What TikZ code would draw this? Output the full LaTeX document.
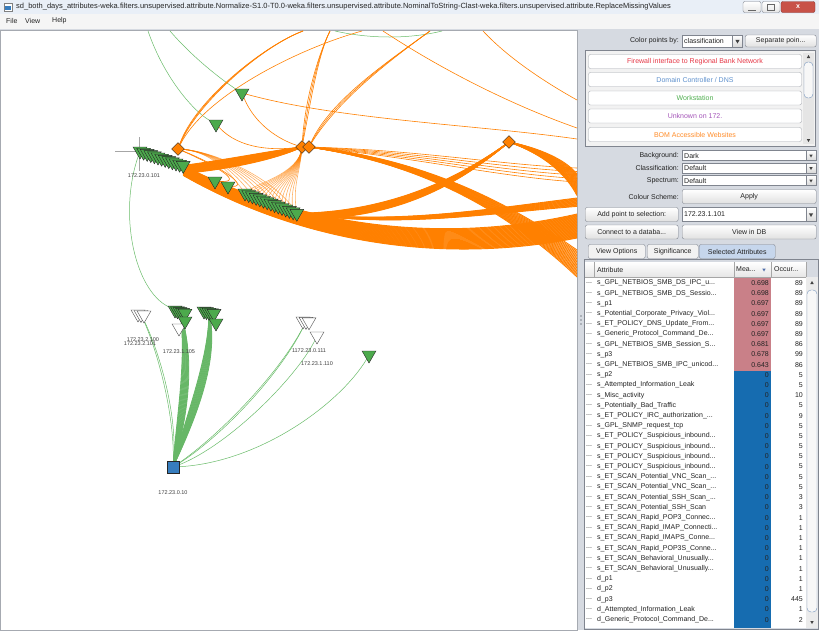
\documentclass[tikz,border=0pt]{standalone}
\usepackage{fontspec}
\setmainfont{Liberation Sans}
\usetikzlibrary{shapes.geometric,positioning}
\pgfdeclarelayer{bg}
\pgfdeclarelayer{edges}
\pgfsetlayers{bg,edges,main}

\definecolor{orng}{RGB}{255,128,0}
\definecolor{grnline}{RGB}{105,188,105}
\definecolor{grnfill}{RGB}{76,170,76}
\definecolor{sqblue}{RGB}{55,125,190}
\definecolor{panel}{RGB}{214,218,225}
\definecolor{frame}{RGB}{128,133,143}
\definecolor{meanred}{RGB}{201,128,136}
\definecolor{meanblue}{RGB}{22,108,176}
\definecolor{tabsel}{RGB}{198,214,236}
\definecolor{titlebg}{RGB}{233,239,247}
\definecolor{closered}{RGB}{200,82,72}
\definecolor{txt}{RGB}{35,35,35}
\definecolor{thumb}{RGB}{120,150,190}
\definecolor{sortblue}{RGB}{80,110,170}
\definecolor{cfire}{RGB}{230,55,70}
\definecolor{cdns}{RGB}{95,145,205}
\definecolor{cwork}{RGB}{80,175,80}
\definecolor{cunk}{RGB}{165,85,185}
\definecolor{cbom}{RGB}{255,140,40}
\newcommand\elp{...}

\tikzset{
  ui/.style={font=\fontsize{7}{8}\selectfont,text=txt},
  btn/.style={ui,draw=frame,rounded corners=2pt,top color=white,bottom color=black!12,inner sep=0pt,anchor=west},
  combo/.style={ui,draw=frame,fill=white,inner xsep=2pt,inner ysep=0pt,text width=#1,anchor=west},
  arrbox/.style={draw=frame,top color=white,bottom color=black!15,minimum width=10pt,inner sep=0pt},
  arrd/.style={regular polygon,regular polygon sides=3,shape border rotate=180,fill=black!75,minimum size=5pt,inner sep=0pt},
  arru/.style={arrd,shape border rotate=0},
  lab/.style={ui,anchor=east,inner sep=0pt},
  item/.style={ui,draw=frame!70,fill=white,rounded corners=2pt,minimum width=213pt,minimum height=14pt,inner sep=0pt},
  tab/.style={ui,draw=frame,fill=black!5,rounded corners=2pt,minimum height=14pt,inner sep=0pt,anchor=west},
  cell/.style={ui,inner sep=0pt},
  tri/.style={regular polygon,regular polygon sides=3,shape border rotate=180,draw=black!85,fill=grnfill,minimum size=16pt,inner sep=0pt},
  htri/.style={tri,fill=white,draw=black!70},
  dia/.style={diamond,draw=black!85,fill=orng,minimum size=13pt,inner sep=0pt},
  ip/.style={font=\fontsize{5.5}{6}\selectfont,text=black!75,inner sep=0pt},
  oe/.style={orng,line width=0.6pt},
  ob/.style={orng,line width=0.9pt},
  ge/.style={grnline,line width=0.5pt},
  gb/.style={grnfill!85,line width=0.8pt},
}

\begin{document}
\begin{tikzpicture}[x=1pt,y=-1pt]
\useasboundingbox (0,0) rectangle (819,630);
\begin{pgfonlayer}{bg}
  \fill[panel] (0,0) rectangle (819,630);
  \fill[titlebg] (0,0) rectangle (819,14);
  \fill[black!4] (0,14) rectangle (819,29);
  \fill[white] (1,31) rectangle (577,630);
  \draw[frame!70] (0.5,30.5) rectangle (577.5,630);
\end{pgfonlayer}

\node[draw=black!50,fill=white,minimum size=8pt,inner sep=0pt] (icon) at (8,7) {};
\fill[sqblue] (5,6) rectangle (11,10);
\node[anchor=west,font=\fontsize{7.5}{8}\selectfont,text=black!85,inner sep=0pt] (title) at (16,7) {sd\_both\_days\_attributes-weka.filters.unsupervised.attribute.Normalize-S1.0-T0.0-weka.filters.unsupervised.attribute.NominalToString-Clast-weka.filters.unsupervised.attribute.ReplaceMissingValues};
\node[draw=frame,rounded corners=2pt,top color=white,bottom color=black!10,minimum width=18pt,minimum height=11pt] (wmin) at (752,7) {};
\node[draw=frame,rounded corners=2pt,top color=white,bottom color=black!10,minimum width=18pt,minimum height=11pt] (wmax) at (771,7) {};
\node[draw=closered!70!black,rounded corners=2pt,fill=closered,minimum width=34pt,minimum height=11pt,text=white,font=\fontsize{7}{7}\bfseries] (wclose) at (798,7) {x};
\draw[black!60,line width=1pt] (748,10) -- (756,10);
\draw[black!60] (767.5,4) rectangle (774.5,10);

\node[ui,anchor=west,inner sep=0pt] (mfile) at (6,21) {File};
\node[ui,anchor=west,inner sep=0pt] (mview) at (25,21) {View};
\node[ui,anchor=west,inner sep=0pt] (mhelp) at (52,21) {Help};

% graph nodes
\node[tri] (t1) at (242,93) {};
\node[tri] (t2) at (216,124) {};
\foreach \i in {0,...,12}
  \node[tri] (c1-\i) at ({140+\i*3.6},{151+\i*1.2}) {};
\node[dia] (d1) at (178,149) {};
\node[dia] (d2) at (302,147) {};
\node[dia] (d2b) at (309,147) {};
\node[dia] (d3) at (509,142) {};
\node[tri] (t3) at (215,181) {};
\node[tri] (t4) at (228,186) {};
\foreach \i in {0,...,14}
  \node[tri] (c2-\i) at ({245+\i*3.7},{193+\i*1.45}) {};
\foreach \i in {0,1,2}
  \node[htri] (h1-\i) at ({138+\i*3},{314+\i*0.5}) {};
\node[htri] (h2) at (179,328) {};
\foreach \i in {0,...,4}
  \node[tri] (g1-\i) at ({175+\i*2.5},{310+\i*0.8}) {};
\node[tri] (g1b) at (185,321) {};
\foreach \i in {0,...,4}
  \node[tri] (g2-\i) at ({204+\i*2.5},{311+\i*0.6}) {};
\node[tri] (g2b) at (216,323) {};
\foreach \i in {0,1,2}
  \node[htri] (h3-\i) at ({303+\i*3},{321+\i*0.4}) {};
\node[htri] (h4) at (317,336) {};
\node[tri] (g3) at (369,355) {};
\node[draw=black!85,fill=sqblue,minimum size=12pt,inner sep=0pt] (sq) at (173,467) {};

\node[ip] (l101) at (144,176) {172.23.0.101};
\node[ip] (l2100) at (143,340) {172.23.2.100};
\node[ip] (l2101) at (140,344) {172.23.2.101};
\node[ip] (l105) at (179,352) {172.23.1.105};
\node[ip] (l111) at (309,351) {1172.23.0.111};
\node[ip] (l110) at (317,364) {172.23.1.110};
\node[ip] (l10) at (173,493) {172.23.0.10};

\coordinate (gtopa) at (148,31);
\coordinate (gtopb) at (170,31);
\coordinate (gtopc) at (335,31);
\coordinate (gtopd) at (442,31);
\coordinate (otopa) at (303,31);
\coordinate (otopb) at (362,31);
\coordinate (otopc) at (330,31);
\coordinate (otopd) at (430,31);
\coordinate (otope) at (383,31);
\coordinate (otopf) at (483,31);
\coordinate (eB) at (577,214);
\coordinate (eC) at (577,198);
\coordinate (eD) at (577,174);
\coordinate (eE) at (577,250);
\coordinate (eF) at (577,168);
\coordinate (eG) at (577,139);
\coordinate (eH) at (577,128);
\coordinate (eI) at (577,100);

\begin{pgfonlayer}{edges}
\draw[black!35] (115,151) -- (151,151) (139,137) -- (139,171);
\draw[ge] (gtopa) .. controls (165,80) and (195,112) .. (t2);
\draw[ge] (gtopb) .. controls (195,60) and (225,82) .. (t1);
\draw[ge] (gtopc) .. controls (370,39) and (410,39) .. (gtopd);
\draw[ge] (c1-0) .. controls (118,215) and (135,290) .. (g1-0);
\foreach \k in {0,1}
  \draw[ge] (sq.center) .. controls ({176+\k*3},420) and ({158+\k*2},350) .. (h1-1.center);
\foreach \k in {0,...,16}
  \draw[gb] (sq.center) .. controls ({176+\k*0.7},420) and ({187+\k*0.6},360) .. (g1-2.center);
\foreach \k in {0,...,16}
  \draw[gb] (sq.center) .. controls ({184+\k*0.7},420) and ({209+\k*0.7},360) .. (g2-2.center);
\foreach \k in {0,1}
  \draw[ge] (sq.center) .. controls (215,{440+\k*3}) and (282,{372+\k*3}) .. (h3-1.center);
\draw[ge] (sq.center) .. controls (225,450) and (300,375) .. (h4.center);
\draw[ge] (sq.center) .. controls (260,465) and (345,400) .. (g3.center);

% orange bundles
\foreach \k in {0,...,20}
  \draw[ob] (d2.center) .. controls (275,{150+\k*0.5}) and (225,{160+\k*0.5}) .. ([yshift={-\k*0.4pt}]c1-12.center);
\foreach \k in {0,...,40}
  \draw[ob] ([yshift={-\k*0.25pt}]c1-12.center) .. controls (300,{226+\k*0.4}) and (440,{245+\k*0.5}) .. ([yshift={-\k*0.6pt}]eB);
\foreach \k in {0,...,14}
  \draw[ob] (c2-14.center) .. controls (400,{224+\k*0.3}) and (480,{210+\k*0.3}) .. ([yshift={-\k*0.6pt}]eC);
\foreach \k in {0,...,18}
  \draw[ob] (d3.center) .. controls ({470-\k*0.4},{170+\k*0.6}) and (400,{212+\k*0.5}) .. ([yshift={-\k*0.3pt}]c2-14.center);
\foreach \k in {0,...,18}
  \draw[ob] (d3.center) .. controls ({540+\k*0.3},{148+\k*0.4}) and (566,{160+\k*0.8}) .. ([yshift={-\k*1.2pt}]eD);
\foreach \k in {0,...,18}
  \draw[ob] (d2b.center) .. controls (420,{158+\k*0.3}) and (505,{200+\k*0.5}) .. ([yshift={-\k*1.5pt}]eE);
\foreach \k in {0,...,4}
  \draw[oe] (d2b.center) .. controls (420,{150+\k*2}) and (500,{165+\k*3}) .. ([yshift={-\k*3.5pt}]eF);
\foreach \i in {0,...,14}
  \draw[oe,opacity=0.6] (d2.center) .. controls (300,175) and ({250+\i*3},185) .. (c2-\i.center);
\foreach \i in {0,2,...,14}
  \draw[oe,opacity=0.6] (d1.center) .. controls (215,150) and ({235+\i*3},180) .. (c2-\i.center);
\draw[oe] (d1.center) .. controls (215,165) and (250,185) .. (t3.center);
\draw[oe] (d1.center) .. controls (220,165) and (255,190) .. (t4.center);
\foreach \k in {0,1,2}
  \draw[oe] (d1) .. controls ({195+\k*2},100) and (265,45) .. (otopa);
\draw[oe] (d1) .. controls (205,95) and (300,48) .. (otopb);
\foreach \k in {0,1,2}
  \draw[oe] (d2) .. controls ({305+\k*3},100) and (318,55) .. (otopc);
\foreach \k in {0,1,2}
  \draw[oe] (d2b) .. controls ({330+\k*4},100) and (390,60) .. (otopd);
\draw[oe] (t2) .. controls (240,150) and (275,150) .. (d2);
\draw[oe] (t1) .. controls (255,125) and (280,140) .. (d2);
\draw[oe] (t1) .. controls (340,120) and (480,125) .. (eG);
\draw[oe] (otope) .. controls (450,75) and (520,108) .. (eH);
\draw[oe] (otopf) .. controls (510,60) and (550,85) .. (eI);
\end{pgfonlayer}

% right panel
\foreach \d in {0,1,2}
  \fill[frame] (581,{316+\d*4}) circle (0.8);
\node[lab] (cpl) at (679,41) {Color points by:};
\node[combo=46pt,minimum height=12pt] (cpc) at (682,41) {classification};
\node[arrbox,minimum height=12pt] (cpa) at (737.5,41) {};
\node[arrd] at (cpa) {};
\node[btn,minimum width=71pt,minimum height=12pt] (sep) at (745,41) {Separate poin...};

\draw[frame,fill=black!5] (585.5,50.5) rectangle (815.5,146);
\node[item,text=cfire] (i1) at (695,61.5) {Firewall interface to Regional Bank Network};
\node[item,text=cdns] (i2) at (695,79.5) {Domain Controller / DNS};
\node[item,text=cwork] (i3) at (695,98) {Workstation};
\node[item,text=cunk] (i4) at (695,116) {Unknown on 172.};
\node[item,text=cbom] (i5) at (695,134.5) {BOM Accessible Websites};
\fill[black!10] (803,53) rectangle (814,144);
\draw[thumb,fill=black!3,rounded corners=4pt] (804,62) rectangle (813,98);
\node[arru,minimum size=4pt] (lup) at (808.5,57) {};
\node[arrd,minimum size=4pt] (ldn) at (808.5,140) {};

\node[lab] (bgl) at (679,155.5) {Background:};
\node[combo=130pt,minimum height=10pt] (bgc) at (682,155.5) {Dark};
\node[arrbox,minimum height=10pt] (bga) at (811,155.5) {};
\node[arrd,minimum size=4pt] at (bga) {};
\node[lab] (cll) at (679,168) {Classification:};
\node[combo=130pt,minimum height=10pt] (clc) at (682,168) {Default};
\node[arrbox,minimum height=10pt] (cla) at (811,168) {};
\node[arrd,minimum size=4pt] at (cla) {};
\node[lab] (spl) at (679,180.5) {Spectrum:};
\node[combo=130pt,minimum height=10pt] (spc) at (682,180.5) {Default};
\node[arrbox,minimum height=10pt] (spa) at (811,180.5) {};
\node[arrd,minimum size=4pt] at (spa) {};
\node[lab] (csl) at (679,196.5) {Colour Scheme:};
\node[btn,minimum width=134pt,minimum height=14pt] (apply) at (682,196.5) {Apply};
\node[btn,minimum width=93pt,minimum height=14pt] (addp) at (585,214.5) {Add point to selection:};
\node[combo=126pt,minimum height=14pt] (addc) at (682,214.5) {172.23.1.101};
\node[arrbox,minimum height=14pt] (adda) at (811,214.5) {};
\node[arrd] at (adda) {};
\node[btn,minimum width=93pt,minimum height=14pt] (conn) at (585,232) {Connect to a databa...};
\node[btn,minimum width=134pt,minimum height=14pt] (vdb) at (682,232) {View in DB};

\node[tab,minimum width=57pt] (tvo) at (588,251.5) {View Options};
\node[tab,minimum width=51pt] (tsg) at (647,251.5) {Significance};
\node[tab,minimum width=76pt,fill=tabsel] (tsa) at (699,251.5) {Selected Attributes};
\draw[frame] (584.5,259) rectangle (818.5,629.5);
\fill[white] (585,262) rectangle (806,628);
\shade[top color=white,bottom color=black!10] (585,262) rectangle (806,277);
\draw[black!35] (585,277) -- (806,277);
\foreach \c in {594,734,771,806}
  \draw[black!35] (\c,262) -- (\c,277);
\node[cell,anchor=west] (hattr) at (597,269.5) {Attribute};
\node[cell,anchor=west] (hmean) at (736,269.5) {Mea...};
\node[arrd,minimum size=4pt,fill=sortblue] (hsort) at (764,269.5) {};
\node[cell,anchor=west] (hocc) at (774,269.5) {Occur...};
\fill[meanred] (734,277.5) rectangle (771,370.5);
\fill[meanblue] (734,370.5) rectangle (771,628);

\foreach \a/\m/\o [count=\r from 0] in {
  s\_GPL\_NETBIOS\_SMB\_DS\_IPC\_u\elp/0.698/89,
  s\_GPL\_NETBIOS\_SMB\_DS\_Sessio\elp/0.698/89,
  s\_p1/0.697/89,
  s\_Potential\_Corporate\_Privacy\_Viol\elp/0.697/89,
  s\_ET\_POLICY\_DNS\_Update\_From\elp/0.697/89,
  s\_Generic\_Protocol\_Command\_De\elp/0.697/89,
  s\_GPL\_NETBIOS\_SMB\_Session\_S\elp/0.681/86,
  s\_p3/0.678/99,
  s\_GPL\_NETBIOS\_SMB\_IPC\_unicod\elp/0.643/86,
  s\_p2/0/5,
  s\_Attempted\_Information\_Leak/0/5,
  s\_Misc\_activity/0/10,
  s\_Potentially\_Bad\_Traffic/0/5,
  s\_ET\_POLICY\_IRC\_authorization\_\elp/0/9,
  s\_GPL\_SNMP\_request\_tcp/0/5,
  s\_ET\_POLICY\_Suspicious\_inbound\elp/0/5,
  s\_ET\_POLICY\_Suspicious\_inbound\elp/0/5,
  s\_ET\_POLICY\_Suspicious\_inbound\elp/0/5,
  s\_ET\_POLICY\_Suspicious\_inbound\elp/0/5,
  s\_ET\_SCAN\_Potential\_VNC\_Scan\_\elp/0/5,
  s\_ET\_SCAN\_Potential\_VNC\_Scan\_\elp/0/5,
  s\_ET\_SCAN\_Potential\_SSH\_Scan\_\elp/0/3,
  s\_ET\_SCAN\_Potential\_SSH\_Scan/0/3,
  s\_ET\_SCAN\_Rapid\_POP3\_Connec\elp/0/1,
  s\_ET\_SCAN\_Rapid\_IMAP\_Connecti\elp/0/1,
  s\_ET\_SCAN\_Rapid\_IMAPS\_Conne\elp/0/1,
  s\_ET\_SCAN\_Rapid\_POP3S\_Conne\elp/0/1,
  s\_ET\_SCAN\_Behavioral\_Unusually\elp/0/1,
  s\_ET\_SCAN\_Behavioral\_Unusually\elp/0/1,
  d\_p1/0/1,
  d\_p2/0/1,
  d\_p3/0/445,
  d\_Attempted\_Information\_Leak/0/1,
  d\_Generic\_Protocol\_Command\_De\elp/0/2}{
  \node[cell,anchor=west] (dots\r) at (586,{283+\r*10.2}) {\elp};
  \node[cell,anchor=west] (attr\r) at (597,{283+\r*10.2}) {\a};
  \node[cell,anchor=east] (mean\r) at (769,{283+\r*10.2}) {\m};
  \node[cell,anchor=east] (occ\r) at (803,{283+\r*10.2}) {\o};
}
\fill[black!8] (806,277) rectangle (818,628);
\draw[thumb,fill=black!3,rounded corners=4pt] (807,290) rectangle (817,612);
\node[arru,minimum size=4pt] (tup) at (812,283) {};
\node[arrd,minimum size=4pt] (tdn) at (812,622) {};
\end{tikzpicture}
\end{document}
